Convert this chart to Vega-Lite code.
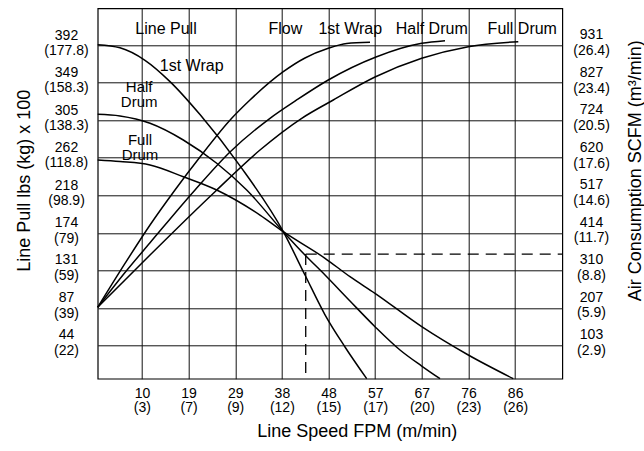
{
  "$schema": "https://vega.github.io/schema/vega-lite/v6.json",
  "width": 464.6,
  "height": 370.4,
  "autosize": {"type": "none"},
  "padding": {"left": 97.7, "top": 8.3, "right": 81.7, "bottom": 72.3},
  "background": "white",
  "config": {
    "font": "Liberation Sans",
    "view": {"stroke": "#000", "strokeWidth": 1.2},
    "axis": {
      "domain": false, "ticks": false, "tickSize": 0,
      "gridColor": "#111", "gridOpacity": 1, "gridWidth": 1,
      "labelColor": "#000", "titleColor": "#000",
      "labelFontSize": 14, "titleFontSize": 18, "titleFontWeight": "normal",
      "labelOverlap": false, "labelFlush": false
    }
  },
  "datasets": {
    "pull": [
      {"curve": "1st Wrap", "fpm": 0.5, "pull": 392.5},
      {"curve": "1st Wrap", "fpm": 5.06, "pull": 388.9},
      {"curve": "1st Wrap", "fpm": 10.18, "pull": 374.4},
      {"curve": "1st Wrap", "fpm": 15.3, "pull": 349.7},
      {"curve": "1st Wrap", "fpm": 21.44, "pull": 311.4},
      {"curve": "1st Wrap", "fpm": 29.63, "pull": 251.9},
      {"curve": "1st Wrap", "fpm": 38.49, "pull": 175.5},
      {"curve": "1st Wrap", "fpm": 42.93, "pull": 125.2},
      {"curve": "1st Wrap", "fpm": 47.03, "pull": 79.0},
      {"curve": "1st Wrap", "fpm": 51.12, "pull": 41.6},
      {"curve": "1st Wrap", "fpm": 55.56, "pull": 4.8},
      {"curve": "Half Drum", "fpm": 0.5, "pull": 311.7},
      {"curve": "Half Drum", "fpm": 5.06, "pull": 309.8},
      {"curve": "Half Drum", "fpm": 11.21, "pull": 301.3},
      {"curve": "Half Drum", "fpm": 18.02, "pull": 281.9},
      {"curve": "Half Drum", "fpm": 24.86, "pull": 254.9},
      {"curve": "Half Drum", "fpm": 31.0, "pull": 223.9},
      {"curve": "Half Drum", "fpm": 38.49, "pull": 175.5},
      {"curve": "Half Drum", "fpm": 42.93, "pull": 148.4},
      {"curve": "Half Drum", "fpm": 47.03, "pull": 125.2},
      {"curve": "Half Drum", "fpm": 52.14, "pull": 95.0},
      {"curve": "Half Drum", "fpm": 57.26, "pull": 65.2},
      {"curve": "Half Drum", "fpm": 62.38, "pull": 38.1},
      {"curve": "Half Drum", "fpm": 66.82, "pull": 19.5},
      {"curve": "Half Drum", "fpm": 70.57, "pull": 4.8},
      {"curve": "Full Drum", "fpm": 0.5, "pull": 258.7},
      {"curve": "Full Drum", "fpm": 5.06, "pull": 256.9},
      {"curve": "Full Drum", "fpm": 11.21, "pull": 252.9},
      {"curve": "Full Drum", "fpm": 18.02, "pull": 239.3},
      {"curve": "Full Drum", "fpm": 24.86, "pull": 223.9},
      {"curve": "Full Drum", "fpm": 33.72, "pull": 194.8},
      {"curve": "Full Drum", "fpm": 38.49, "pull": 175.5},
      {"curve": "Full Drum", "fpm": 47.03, "pull": 144.6},
      {"curve": "Full Drum", "fpm": 52.14, "pull": 123.2},
      {"curve": "Full Drum", "fpm": 57.26, "pull": 103.9},
      {"curve": "Full Drum", "fpm": 66.82, "pull": 65.2},
      {"curve": "Full Drum", "fpm": 76.36, "pull": 32.3},
      {"curve": "Full Drum", "fpm": 85.57, "pull": 4.8}
    ],
    "air": [
      {"curve": "1st Wrap", "fpm": 0.5, "air": 207},
      {"curve": "1st Wrap", "fpm": 6.09, "air": 328},
      {"curve": "1st Wrap", "fpm": 11.21, "air": 434.1},
      {"curve": "1st Wrap", "fpm": 16.32, "air": 530.7},
      {"curve": "1st Wrap", "fpm": 21.44, "air": 621.7},
      {"curve": "1st Wrap", "fpm": 27.93, "air": 728.5},
      {"curve": "1st Wrap", "fpm": 31.67, "air": 779.0},
      {"curve": "1st Wrap", "fpm": 38.49, "air": 857.1},
      {"curve": "1st Wrap", "fpm": 42.93, "air": 894.9},
      {"curve": "1st Wrap", "fpm": 47.7, "air": 921.6},
      {"curve": "1st Wrap", "fpm": 51.47, "air": 934.9},
      {"curve": "1st Wrap", "fpm": 56.24, "air": 938.2},
      {"curve": "Half Drum", "fpm": 0.5, "air": 207},
      {"curve": "Half Drum", "fpm": 6.09, "air": 303},
      {"curve": "Half Drum", "fpm": 11.21, "air": 385},
      {"curve": "Half Drum", "fpm": 20.42, "air": 530.7},
      {"curve": "Half Drum", "fpm": 27.58, "air": 635.5},
      {"curve": "Half Drum", "fpm": 35.77, "air": 728.5},
      {"curve": "Half Drum", "fpm": 41.23, "air": 779.0},
      {"curve": "Half Drum", "fpm": 47.7, "air": 834.2},
      {"curve": "Half Drum", "fpm": 57.47, "air": 897.6},
      {"curve": "Half Drum", "fpm": 66.82, "air": 935.4},
      {"curve": "Half Drum", "fpm": 71.59, "air": 942.6},
      {"curve": "Full Drum", "fpm": 0.5, "air": 207},
      {"curve": "Full Drum", "fpm": 6.09, "air": 282.3},
      {"curve": "Full Drum", "fpm": 11.21, "air": 351.3},
      {"curve": "Full Drum", "fpm": 24.51, "air": 526.0},
      {"curve": "Full Drum", "fpm": 33.72, "air": 641.0},
      {"curve": "Full Drum", "fpm": 42.26, "air": 728.5},
      {"curve": "Full Drum", "fpm": 48.72, "air": 779.0},
      {"curve": "Full Drum", "fpm": 57.26, "air": 842.4},
      {"curve": "Full Drum", "fpm": 66.82, "air": 894.0},
      {"curve": "Full Drum", "fpm": 76.36, "air": 926.1},
      {"curve": "Full Drum", "fpm": 86.59, "air": 939.9}
    ],
    "labels": [
      {"t": "Line Pull", "fpm": 14.48, "pull": 420.5},
      {"t": "Flow", "fpm": 38.9, "pull": 420.5},
      {"t": "1st Wrap", "fpm": 52.2, "pull": 420.5},
      {"t": "Half Drum", "fpm": 68.87, "pull": 420.5},
      {"t": "Full Drum", "fpm": 87.41, "pull": 420.5},
      {"t": "1st Wrap", "fpm": 19.74, "pull": 377.0}
    ],
    "labels2": [
      {"t": "Half\nDrum", "fpm": 8.99, "pull": 351.0},
      {"t": "Full\nDrum", "fpm": 9.16, "pull": 289.9}
    ],
    "dash": [
      {"fpm": 43.08, "fpm2": 43.08, "pull": 149.5, "pull2": 4.8},
      {"fpm": 43.08, "fpm2": 95.6, "pull": 149.5, "pull2": 149.5}
    ]
  },
  "encoding": {
    "x": {
      "field": "fpm", "type": "quantitative",
      "scale": {"domain": [0.5, 95.6], "nice": false, "zero": false},
      "axis": {
        "values": [9.55, 19.1, 28.65, 38.2, 47.75, 57.3, 66.85, 76.4, 85.95],
        "labelExpr": "[['10','(3)'],['19','(7)'],['29','(9)'],['38','(12)'],['48','(15)'],['57','(17)'],['67','(20)'],['76','(23)'],['86','(26)']][round(datum.value/9.55)-1]",
        "grid": true,
        "labelBaseline": "top", "labelPadding": 7.5, "labelLineHeight": 14.5,
        "title": "Line Speed FPM (m/min)",
        "titleX": 259, "titleY": 58.3, "titleBaseline": "alphabetic", "titleAlign": "center"
      }
    }
  },
  "layer": [
    {
      "data": {"name": "pull"},
      "mark": {"type": "line", "interpolate": "monotone", "color": "#000", "strokeWidth": 1.5},
      "encoding": {
        "y": {
          "field": "pull", "type": "quantitative",
          "scale": {"domain": [4.8, 434.8], "nice": false, "zero": false},
          "axis": {
            "orient": "left",
            "values": [44, 87, 131, 174, 218, 262, 305, 349, 392],
            "labelExpr": "[datum.label, ['(22)','(39)','(59)','(79)','(98.9)','(118.8)','(138.3)','(158.3)','(177.8)'][indexof([44,87,131,174,218,262,305,349,392], datum.value)]]",
            "grid": true,
            "labelAlign": "center", "labelBaseline": "middle", "labelPadding": 31.7, "labelLineHeight": 15.5, "labelOffset": -10,
            "title": "Line Pull lbs (kg) x 100",
            "titleAngle": -90, "titleX": -68.2, "titleY": 172, "titleBaseline": "alphabetic", "titleAlign": "center"
          }
        },
        "detail": {"field": "curve"}
      }
    },
    {
      "data": {"name": "air"},
      "mark": {"type": "line", "interpolate": "monotone", "color": "#000", "strokeWidth": 1.5},
      "encoding": {
        "y": {
          "field": "air", "type": "quantitative",
          "scale": {"domain": [10, 1032], "nice": false, "zero": false},
          "axis": {
            "orient": "right",
            "values": [103, 207, 310, 414, 517, 620, 724, 827, 931],
            "labelExpr": "[datum.label, ['(2.9)','(5.9)','(8.8)','(11.7)','(14.6)','(17.6)','(20.5)','(23.4)','(26.4)'][indexof([103,207,310,414,517,620,724,827,931], datum.value)]]",
            "grid": false,
            "labelAlign": "center", "labelBaseline": "middle", "labelPadding": 28.7, "labelLineHeight": 15.5, "labelOffset": -10,
            "title": "Air Consumption SCFM (m³/min)",
            "titleAngle": -90, "titleX": 77.7, "titleY": 162, "titleBaseline": "alphabetic", "titleAlign": "center"
          }
        },
        "detail": {"field": "curve"}
      }
    },
    {
      "data": {"name": "dash"},
      "mark": {"type": "rule", "color": "#000", "strokeWidth": 1.3, "strokeDash": [11, 7]},
      "encoding": {
        "x2": {"field": "fpm2"},
        "y": {"field": "pull", "type": "quantitative", "scale": {"domain": [4.8, 434.8], "nice": false, "zero": false}, "axis": null},
        "y2": {"field": "pull2"}
      }
    },
    {
      "data": {"name": "labels"},
      "mark": {"type": "text", "fontSize": 16, "align": "center", "baseline": "top", "color": "#000"},
      "encoding": {
        "y": {"field": "pull", "type": "quantitative", "scale": {"domain": [4.8, 434.8], "nice": false, "zero": false}, "axis": null},
        "text": {"field": "t"}
      }
    },
    {
      "data": {"name": "labels2"},
      "mark": {"type": "text", "fontSize": 15, "align": "center", "baseline": "top", "lineBreak": "\n", "lineHeight": 15, "color": "#000"},
      "encoding": {
        "y": {"field": "pull", "type": "quantitative", "scale": {"domain": [4.8, 434.8], "nice": false, "zero": false}, "axis": null},
        "text": {"field": "t"}
      }
    }
  ],
  "resolve": {"scale": {"y": "independent"}}
}
